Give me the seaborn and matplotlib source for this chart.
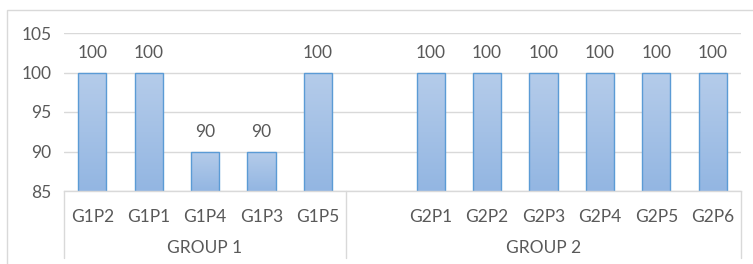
import numpy as np
import pandas as pd
import matplotlib
matplotlib.use("Agg")
import matplotlib.pyplot as plt
from matplotlib.colors import LinearSegmentedColormap
from matplotlib.patches import Rectangle
import seaborn as sns

# chart values
labels = ["G1P2", "G1P1", "G1P4", "G1P3", "G1P5", " ",
          "G2P1", "G2P2", "G2P3", "G2P4", "G2P5", "G2P6"]
scores = [100, 100, 90, 90, 100, None, 100, 100, 100, 100, 100, 100]
groups = ["GROUP 1", "GROUP 2"]
group_spans = [(0, 5), (5, 12)]  # slot ranges each group covers

df = pd.DataFrame({"label": labels, "score": scores}).dropna()

sns.set_style("white")
plt.rcParams["font.family"] = ["Lato", "DejaVu Sans"]
text_col = "#595959"
grid_col = "#d9d9d9"
fs = 12.5

W, H = 753, 264
fig = plt.figure(figsize=(W / 100, H / 100), dpi=100)
# outer chart border
fig.patches.append(Rectangle((7 / W, -0.1), 1.2, (H - 10) / H + 0.1,
                             transform=fig.transFigure, fill=False,
                             edgecolor=grid_col, linewidth=1))
ax = fig.add_axes([64 / W, (H - 191) / H, 677 / W, (191 - 33) / H])

ymin, ymax = 85, 105
sns.barplot(data=df, x="label", y="score", order=labels, ax=ax,
            width=0.5, color="#a5c2e7", edgecolor="#5b9bd5", linewidth=1)

ax.set_yticks([85, 90, 95, 100, 105])
ax.yaxis.grid(True, color=grid_col, linewidth=1)
ax.set_axisbelow(True)
for s in ["top", "right", "left"]:
    ax.spines[s].set_visible(False)
ax.spines["bottom"].set_color(grid_col)
ax.spines["bottom"].set_linewidth(1)
ax.spines["bottom"].set_zorder(5)
ax.tick_params(axis="y", length=0, pad=9, labelsize=fs, labelcolor=text_col)
ax.tick_params(axis="x", length=0, pad=13, labelsize=fs, labelcolor=text_col)
ax.set_xlabel("")
ax.set_ylabel("")

# gradient fill clipped to each bar, kept inside the visible range
cmap = LinearSegmentedColormap.from_list("bar", ["#93b6e2", "#b5ccea"])
grad = np.linspace(0, 1, 64).reshape(-1, 1)
for p in ax.patches:
    x0 = p.get_x()
    top = p.get_y() + p.get_height()
    im = ax.imshow(grad, cmap=cmap, origin="lower", aspect="auto",
                   extent=[x0, x0 + p.get_width(), ymin, top],
                   zorder=p.get_zorder())
    im.set_clip_path(p)
    p.set_facecolor("none")
    p.set_zorder(p.get_zorder() + 0.1)
ax.set_xlim(-0.5, len(labels) - 0.5)
ax.set_ylim(ymin, ymax)

for c in ax.containers:
    ax.bar_label(c, fmt="%d", padding=8, fontsize=fs, color=text_col)

# second-level category axis
sep_bottom = -(258 - 191) / (191 - 33)
grp_y = -(248 - 191) / (191 - 33)
trans = ax.get_xaxis_transform()
edges = sorted({e for span in group_spans for e in span})
for e in edges:
    ax.plot([e - 0.5, e - 0.5], [0, sep_bottom], transform=trans,
            color=grid_col, linewidth=1, clip_on=False)
for name, (a, b) in zip(groups, group_spans):
    ax.text((a + b - 1) / 2, grp_y, name, transform=trans, ha="center",
            va="center", fontsize=fs, color=text_col)

fig.savefig("out.png", dpi=100)
